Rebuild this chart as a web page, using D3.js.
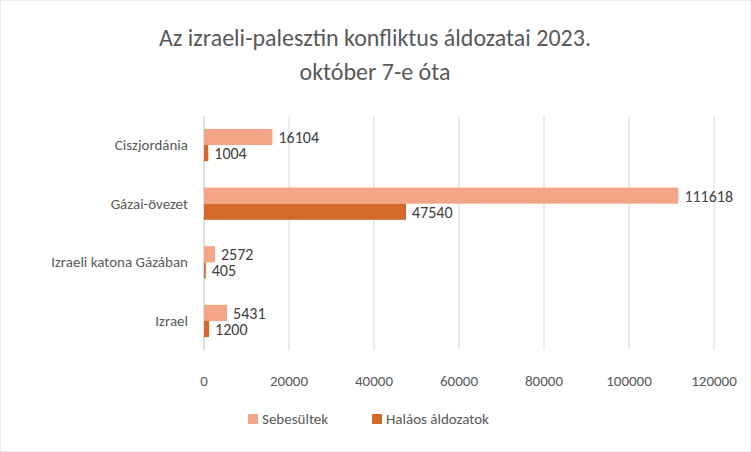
<!DOCTYPE html>
<html><head><meta charset="utf-8">
<script src="https://cdn.jsdelivr.net/npm/d3@7"></script>
<style>body{margin:0;background:#fff;font-family:Calibri,Carlito,"Open Sans",sans-serif;}</style>
</head><body><svg id="c" width="751" height="452"></svg>
<script>
const categories = ["Ciszjordánia","Gázai-övezet","Izraeli katona Gázában","Izrael"];
const injured = [16104,111618,2572,5431];
const killed = [1004,47540,405,1200];
const seriesNames = ["Sebesültek","Haláos áldozatok"];
const ticks = [0,20000,40000,60000,80000,100000,120000];
const colors = ["#F3A687","#D5692B"];

const svg = d3.select("#c");
svg.append("rect").attr("width",751).attr("height",452).attr("fill","#fff").attr("stroke","#d9d9d9");
const x = d3.scaleLinear().domain([0,120000]).range([204,714]);
const y = d3.scaleBand().domain(categories).range([116,350]).paddingInner(0.45).paddingOuter(0.22);
const sub = d3.scaleBand().domain([0,1]).range([0,y.bandwidth()]);

svg.append("g").selectAll("line").data(ticks.slice(1)).join("line")
 .attr("x1",d=>x(d)).attr("x2",d=>x(d)).attr("y1",116).attr("y2",350)
 .attr("stroke","#d9d9d9");
svg.append("line").attr("x1",204).attr("x2",204).attr("y1",116).attr("y2",350).attr("stroke","#bfbfbf");

const tf = {fill:"#595959","font-family":"'Open Sans',sans-serif"};
svg.append("g").selectAll("text").data(ticks).join("text")
 .attr("x",d=>x(d)).attr("y",386).attr("text-anchor","middle").attr("font-size",15)
 .attr("fill","#595959").text(d=>d);
svg.append("g").selectAll("text").data(categories).join("text")
 .attr("x",188).attr("y",d=>y(d)+y.bandwidth()/2+5).attr("text-anchor","end").attr("font-size",15)
 .attr("fill","#595959").text(d=>d);

[injured,killed].forEach((vals,s)=>{
  const g = svg.append("g");
  g.selectAll("rect").data(vals).join("rect")
   .attr("x",x(0)).attr("y",(d,i)=>y(categories[i])+sub(s))
   .attr("width",d=>x(d)-x(0)).attr("height",sub.bandwidth()).attr("fill",colors[s]);
  g.selectAll("text").data(vals).join("text")
   .attr("x",d=>x(d)+6).attr("y",(d,i)=>y(categories[i])+sub(s)+sub.bandwidth()/2+6)
   .attr("font-size",16).attr("fill","#404040").text(d=>d);
});

svg.append("text").attr("x",375).attr("y",46).attr("text-anchor","middle").attr("font-size",24).attr("fill","#595959").text("Az izraeli-palesztin konfliktus áldozatai 2023.");
svg.append("text").attr("x",375).attr("y",80).attr("text-anchor","middle").attr("font-size",24).attr("fill","#595959").text("október 7-e óta");

const lx=[248,372];
seriesNames.forEach((n,i)=>{
  svg.append("rect").attr("x",lx[i]).attr("y",414).attr("width",10).attr("height",10).attr("fill",colors[i]);
  svg.append("text").attr("x",lx[i]+14).attr("y",424).attr("font-size",15).attr("fill","#595959").text(n);
});
</script></body></html>
